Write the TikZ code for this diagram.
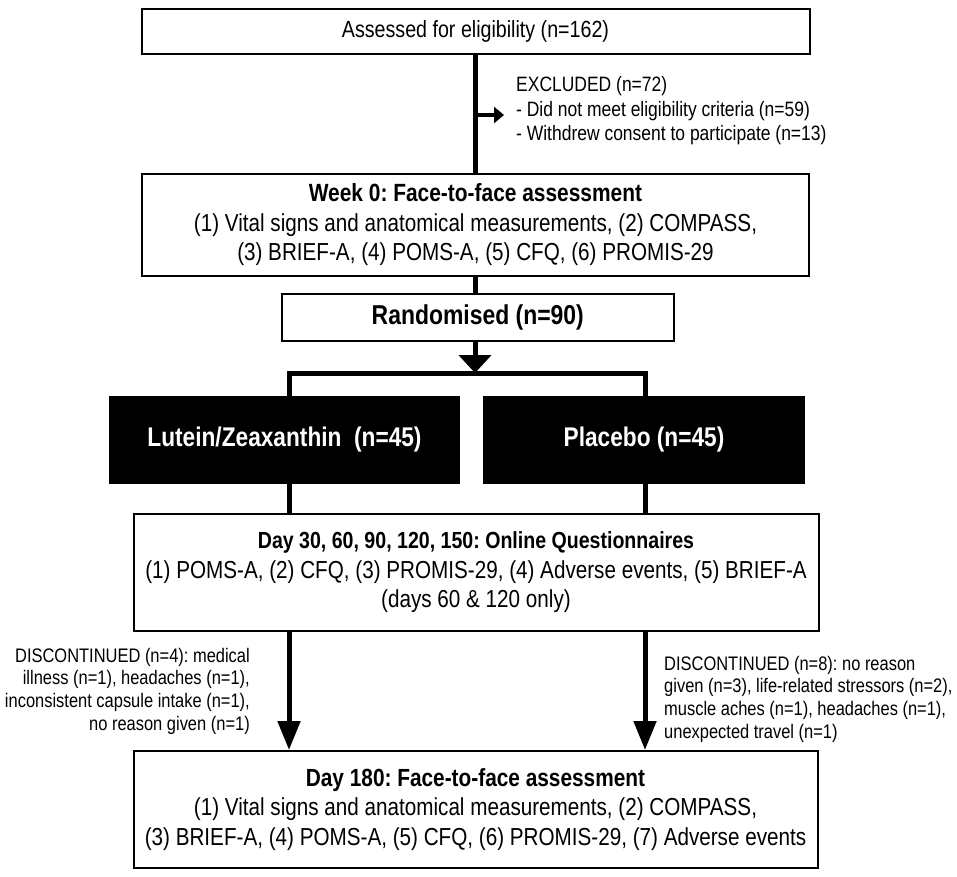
\documentclass[tikz,border=0pt]{standalone}
\usepackage{fontspec}
\setmainfont{Liberation Sans}[FakeStretch=0.84]
\usetikzlibrary{arrows.meta}
\frenchspacing
\begin{document}
\frenchspacing
\begin{tikzpicture}[x=1pt,y=-1pt,
  box/.style={draw=black, line width=2pt, fill=white, inner sep=0pt, align=center, font=\fontsize{24.6}{29.5}\selectfont},
  blackbox/.style={draw=black, line width=2pt, fill=black, text=white, inner sep=0pt, font=\bfseries\fontsize{27}{30}\selectfont},
  flow/.style={line width=5pt},
  note/.style={inner sep=0pt, font=\fontsize{19.6}{22.7}\selectfont}
]
\useasboundingbox (0,0) rectangle (957,876);
% boxes
\node[box, minimum width=668, minimum height=45, font=\fontsize{23.4}{27}\selectfont] (b1) at (475.5,31.8) {Assessed for eligibility (n=162)};
\node[box, minimum width=667, minimum height=102] (b2) at (475.5,225) {{\fontsize{24.9}{29.5}\selectfont\bfseries Week 0: Face-to-face assessment}\\(1) Vital signs and anatomical measurements, (2) COMPASS,\\(3) BRIEF-A, (4) POMS-A, (5) CFQ, (6) PROMIS-29};
\node[box, minimum width=392, minimum height=47, font=\bfseries\fontsize{27.3}{30}\selectfont] (b3) at (477.8,317.5) {Randomised (n=90)};
\node[blackbox, minimum width=349, minimum height=86] (bL) at (284.5,440) {Lutein/Zeaxanthin\ \ (n=45)};
\node[blackbox, minimum width=320, minimum height=86] (bR) at (644,440) {Placebo (n=45)};
\node[box, minimum width=685, minimum height=117] (b5) at (476,572.5) {{\fontsize{23.3}{30}\selectfont\bfseries Day 30, 60, 90, 120, 150: Online Questionnaires}\\(1) POMS-A, (2) CFQ, (3) PROMIS-29, (4) Adverse events, (5) BRIEF-A\\(days 60 \& 120 only)};
\node[box, minimum width=684, minimum height=117] (b6) at (475.5,809.5) {{\fontsize{24.8}{30}\selectfont\bfseries Day 180: Face-to-face assessment}\\(1) Vital signs and anatomical measurements, (2) COMPASS,\\(3) BRIEF-A, (4) POMS-A, (5) CFQ, (6) PROMIS-29, (7) Adverse events};
% notes
\node[note, anchor=west, align=left, font=\fontsize{20.8}{24.5}\selectfont] (excl) at (516,111) {EXCLUDED (n=72)\\- Did not meet eligibility criteria (n=59)\\- Withdrew consent to participate (n=13)};
\node[note, anchor=east, align=right] (dL) at (250,691) {DISCONTINUED (n=4): medical\\illness (n=1), headaches (n=1),\\inconsistent capsule intake (n=1),\\no reason given (n=1)};
\node[note, anchor=west, align=left] (dR) at (664,699) {DISCONTINUED (n=8): no reason\\given (n=3), life-related stressors (n=2),\\muscle aches (n=1), headaches (n=1),\\unexpected travel (n=1)};
% coordinates
\coordinate (exS) at (475,115);
\coordinate (exT) at (504,115);
\coordinate (sM) at (475,373);
\coordinate (sL) at (289,373);
\coordinate (sR) at (645,373);
% connectors
\draw[flow] (b1.south -| exS) -- (b2.north -| exS);
\draw[line width=4pt, -{Triangle[length=10pt,width=16pt]}] (exS) -- (exT);
\draw[flow] (b2.south -| exS) -- (b3.north -| exS);
\draw[flow, -{Triangle[length=18pt,width=32pt]}] (b3.south -| sM) -- (sM);
\draw[flow] (bL.north -| sL) -- (sL) -- (sR) -- (bR.north -| sR);
\draw[flow] (bL.south -| sL) -- (b5.north -| sL);
\draw[flow] (bR.south -| sR) -- (b5.north -| sR);
\draw[flow, -{Triangle[length=29pt,width=22pt]}] (b5.south -| sL) -- (b6.north -| sL);
\draw[flow, -{Triangle[length=29pt,width=22pt]}] (b5.south -| sR) -- (b6.north -| sR);
\end{tikzpicture}
\end{document}
